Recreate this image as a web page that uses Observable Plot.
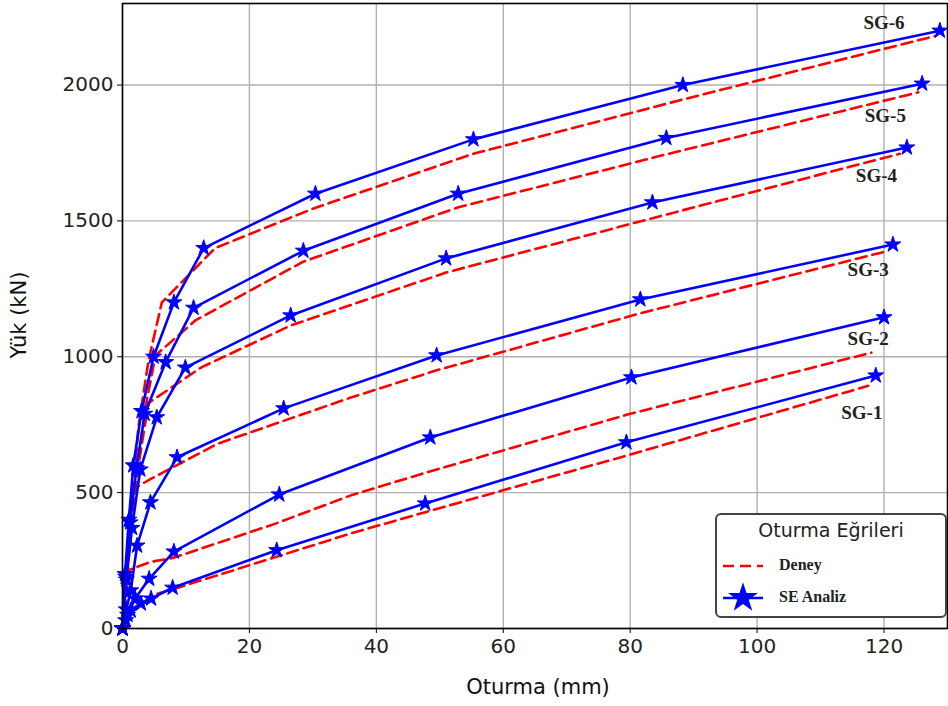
<!DOCTYPE html>
<html><head><meta charset="utf-8">
<script src="https://cdn.jsdelivr.net/npm/d3@7"></script>
<script src="https://cdn.jsdelivr.net/npm/@observablehq/plot@0.6"></script>
<style>
body{margin:0;background:#fff;}
#wrap{position:relative;width:948px;height:706px;overflow:hidden;}
.lbl{position:absolute;font-family:"DejaVu Sans";font-size:21px;color:#111;white-space:nowrap;}
#legend{position:absolute;left:715px;top:513px;width:228px;height:101px;border:2px solid #444;border-radius:6px;background:#fff;}
#legend .ttl{position:absolute;left:0;width:100%;top:4px;text-align:center;font-family:"DejaVu Sans";font-size:19px;color:#222;}
#legend .ent{position:absolute;left:62px;font-family:"Liberation Serif";font-weight:bold;font-size:16px;color:#222;}
#legend svg{position:absolute;left:0;top:0;}
</style></head><body><div id="wrap"></div>
<script>
// Curve names
const curves = ["SG-1","SG-2","SG-3","SG-4","SG-5","SG-6"];

// SE Analiz (blue, stars) — settlement (mm) and load (kN)
const se1x = [0, 0.5, 1.3, 2.9, 4.5, 7.9, 24.3, 47.7, 79.4, 118.7];
const se1y = [0, 30, 66, 92, 110, 150, 288, 460, 685, 931];
const se2x = [0, 0.8, 2.0, 4.2, 8.1, 24.7, 48.5, 80.2, 120.0];
const se2y = [0, 50, 110, 183, 283, 493, 703, 924, 1145];
const se3x = [0, 0.6, 1.3, 2.3, 4.4, 8.6, 25.4, 49.5, 81.6, 121.4];
const se3y = [0, 70, 140, 305, 464, 630, 810, 1005, 1211, 1413];
const se4x = [0, 0.6, 1.5, 2.8, 5.4, 9.9, 26.5, 51.0, 83.5, 123.6];
const se4y = [0, 180, 370, 585, 777, 960, 1152, 1362, 1568, 1770];
const se5x = [0, 0.5, 1.2, 2.2, 3.5, 6.8, 11.2, 28.5, 52.9, 85.7, 126.0];
const se5y = [0, 190, 390, 590, 790, 980, 1180, 1390, 1600, 1805, 2005];
const se6x = [0, 0.4, 1.0, 1.7, 3.0, 4.9, 8.1, 12.8, 30.4, 55.3, 88.3, 128.8];
const se6y = [0, 200, 400, 600, 800, 1000, 1200, 1400, 1600, 1800, 2000, 2200];

// Deney (red dashed)
const de1x = [0, 2.0, 5.5, 8.0, 24.0, 36.0, 48.0, 80.0, 117.5];
const de1y = [0, 80, 128, 145, 262, 350, 430, 640, 893];
const de2x = [0, 1.0, 4.4, 8.0, 24.0, 36.0, 48.0, 80.0, 118.0];
const de2y = [0, 215, 245, 260, 385, 490, 575, 790, 1015];
const de3x = [0, 0.8, 1.5, 4.4, 15.0, 36.0, 49.5, 81.6, 120.7];
const de3y = [0, 300, 510, 550, 680, 850, 950, 1160, 1390];
const de4x = [0, 1.0, 2.5, 4.1, 12.5, 26.5, 51.0, 83.5, 122.5];
const de4y = [0, 300, 600, 830, 962, 1115, 1310, 1510, 1747];
const de5x = [0, 1.5, 3.5, 5.2, 11.5, 28.5, 52.9, 85.7, 125.4];
const de5y = [0, 400, 800, 1005, 1134, 1350, 1550, 1745, 1973];
const de6x = [0, 1.0, 2.5, 4.1, 6.2, 14.6, 30.0, 55.0, 88.0, 128.0];
const de6y = [0, 300, 740, 986, 1200, 1400, 1545, 1745, 1945, 2180];

// Curve labels
const labelText = ["SG-1","SG-2","SG-3","SG-4","SG-5","SG-6"];
const labelX = [116.5, 117.5, 117.5, 118.8, 120.2, 120.0];
const labelY = [792, 1067, 1318, 1664, 1888, 2228];

// Axis ticks
const xTicks = [0, 20, 40, 60, 80, 100, 120];
const yTicks = [0, 500, 1000, 1500, 2000];

const seX = [se1x, se2x, se3x, se4x, se5x, se6x];
const seY = [se1y, se2y, se3y, se4y, se5y, se6y];
const deX = [de1x, de2x, de3x, de4x, de5x, de6x];
const deY = [de1y, de2y, de3y, de4y, de5y, de6y];

const seRows = curves.flatMap((c, i) => seX[i].map((x, j) => ({curve: c, x, y: seY[i][j]})));
const deRows = curves.flatMap((c, i) => deX[i].map((x, j) => ({curve: c, x, y: deY[i][j]})));
const labRows = labelText.map((t, i) => ({t, x: labelX[i], y: labelY[i]}));

const chart = Plot.plot({
  width: 948,
  height: 706,
  marginLeft: 122,
  marginRight: 1,
  marginTop: 3,
  marginBottom: 78,
  style: {fontFamily: "DejaVu Sans", fontSize: "20px", color: "#222", background: "#fff"},
  x: {domain: [0, 130]},
  y: {domain: [0, 2300]},
  marks: [
    Plot.gridX(xTicks, {stroke: "#b0b0b0", strokeOpacity: 1, strokeWidth: 1.4}),
    Plot.gridY(yTicks, {stroke: "#b0b0b0", strokeOpacity: 1, strokeWidth: 1.4}),
    Plot.line(deRows, {x: "x", y: "y", z: "curve", stroke: "#ff0000", strokeWidth: 2.6, strokeDasharray: "11,6"}),
    Plot.line(seRows, {x: "x", y: "y", z: "curve", stroke: "#0000ff", strokeWidth: 2.6}),
    Plot.dot(seRows, {x: "x", y: "y", symbol: "star", r: 5, fill: "#0000ff", stroke: "#0000ff", strokeWidth: 1}),
    Plot.text(labRows, {x: "x", y: "y", text: "t", fontFamily: "Liberation Serif", fontWeight: "bold", fontSize: 19, fill: "#222", textAnchor: "middle"}),
    Plot.frame({stroke: "#000", strokeWidth: 1.6}),
    Plot.axisX(xTicks, {tickSize: 5, tickPadding: 5, fontSize: 20, label: null, stroke: "#000", tickFormat: d3.format("d")}),
    Plot.axisY(yTicks, {tickSize: 5, tickPadding: 4, fontSize: 20, label: null, stroke: "#000", tickFormat: d3.format("d")})
  ]
});
const wrap = document.getElementById("wrap");
wrap.appendChild(chart);

const xl = document.createElement("div");
xl.className = "lbl"; xl.textContent = "Oturma (mm)";
xl.style.left = "538px"; xl.style.top = "675px"; xl.style.transform = "translateX(-50%)";
wrap.appendChild(xl);
const yl = document.createElement("div");
yl.className = "lbl"; yl.textContent = "Yük (kN)";
yl.style.left = "19px"; yl.style.top = "315px"; yl.style.transform = "translate(-50%,-50%) rotate(-90deg)";
wrap.appendChild(yl);

const lg = document.createElement("div");
lg.id = "legend";
lg.innerHTML = `<div class="ttl">Oturma Eğrileri</div>
<svg width="228" height="101">
<line x1="6" x2="46" y1="51" y2="51" stroke="#ff0000" stroke-width="2.6" stroke-dasharray="11,6"/>
<line x1="6" x2="46" y1="83" y2="83" stroke="#0000ff" stroke-width="2.6"/>
<path transform="translate(26,83)" d="${d3.symbol(d3.symbolStar, 280)()}" fill="#0000ff"/>
</svg>
<div class="ent" style="top:41px">Deney</div>
<div class="ent" style="top:73px">SE Analiz</div>`;
wrap.appendChild(lg);
</script></body></html>
